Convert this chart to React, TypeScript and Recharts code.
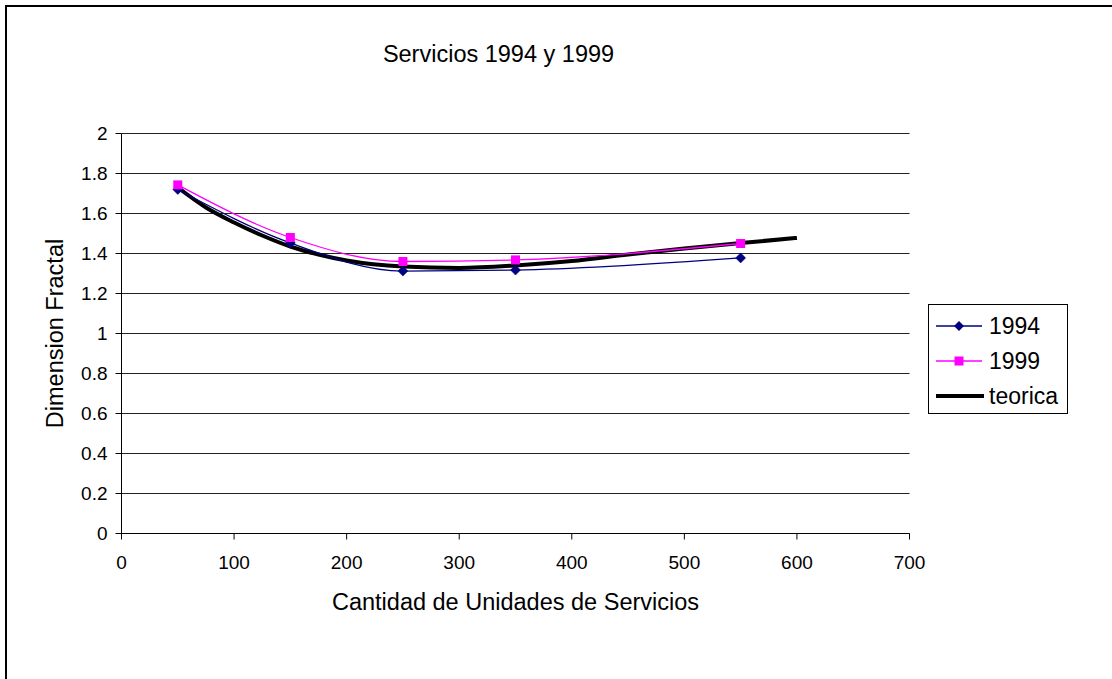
import React from 'react';
import {
  LineChart,
  Line,
  XAxis,
  YAxis,
  CartesianGrid,
  Legend,
  Label,
} from 'recharts';

const FONT = '"Liberation Sans", Arial, Helvetica, sans-serif';

// Dimension fractal by number of service units
const units1994 = [50, 150, 250, 350, 550];
const fractal1994 = [1.72, 1.453, 1.312, 1.317, 1.378];

const units1999 = [50, 150, 250, 350, 550];
const fractal1999 = [1.743, 1.48, 1.36, 1.368, 1.45];

const unitsTeorica = [50, 75, 100, 125, 150, 175, 200, 250, 300, 350, 400, 450, 500, 550, 600];
const fractalTeorica = [
  1.73, 1.63, 1.555, 1.49, 1.435, 1.395, 1.365, 1.335, 1.328, 1.34, 1.362, 1.395, 1.425, 1.452,
  1.478,
];

const xTicks = [0, 100, 200, 300, 400, 500, 600, 700];
const yTicks = [0, 0.2, 0.4, 0.6, 0.8, 1, 1.2, 1.4, 1.6, 1.8, 2];

const toPoints = (xs: number[], ys: number[]) => xs.map((x, i) => ({ x, y: ys[i] }));

const data1994 = toPoints(units1994, fractal1994);
const data1999 = toPoints(units1999, fractal1999);
const dataTeorica = toPoints(unitsTeorica, fractalTeorica);

const NAVY = '#000080';
const MAGENTA = '#ff00ff';

const renderDiamond = (props: any) => {
  const { cx, cy, index } = props;
  if (cx == null || cy == null) return <g key={`d-${index}`} />;
  const r = 5;
  return (
    <path
      key={`d-${index}`}
      d={`M${cx},${cy - r}L${cx + r},${cy}L${cx},${cy + r}L${cx - r},${cy}Z`}
      fill={NAVY}
      stroke={NAVY}
      strokeWidth={0.5}
    />
  );
};

const renderSquare = (props: any) => {
  const { cx, cy, index } = props;
  if (cx == null || cy == null) return <g key={`s-${index}`} />;
  const h = 4.5;
  return <rect key={`s-${index}`} x={cx - h} y={cy - h} width={h * 2} height={h * 2} fill={MAGENTA} />;
};

const renderXTitle = (props: any) => {
  const { x, width } = props.viewBox;
  return (
    <text
      x={x + width / 2}
      y={609.5}
      textAnchor="middle"
      fontFamily={FONT}
      fontSize={23.5}
      fill="#000"
    >
      Cantidad de Unidades de Servicios
    </text>
  );
};

const renderYTitle = (props: any) => {
  const { x, y, height } = props.viewBox;
  const cx = x + 23.5;
  const cy = y + height / 2;
  return (
    <text
      x={cx}
      y={cy}
      transform={`rotate(-90, ${cx}, ${cy})`}
      textAnchor="middle"
      dominantBaseline="central"
      fontFamily={FONT}
      fontSize={23.5}
      fill="#000"
    >
      Dimension Fractal
    </text>
  );
};

const legendRows = [
  { name: '1994', kind: 'diamond' },
  { name: '1999', kind: 'square' },
  { name: 'teorica', kind: 'thick' },
];

const LegendBox = () => (
  <div
    style={{
      border: '1px solid #000',
      background: '#fff',
      width: 138,
      paddingTop: 3,
      fontFamily: FONT,
      fontSize: 23,
      color: '#000',
    }}
  >
    {legendRows.map((row) => (
      <div key={row.name} style={{ display: 'flex', alignItems: 'center', height: 35 }}>
        <svg width={48} height={20} style={{ marginLeft: 7, marginRight: 5 }}>
          {row.kind === 'thick' ? (
            <line x1={0} y1={10} x2={48} y2={10} stroke="#000" strokeWidth={4} />
          ) : (
            <line
              x1={0}
              y1={10}
              x2={46}
              y2={10}
              stroke={row.kind === 'diamond' ? NAVY : MAGENTA}
              strokeWidth={1.3}
            />
          )}
          {row.kind === 'diamond' && <path d="M23,5L28,10L23,15L18,10Z" fill={NAVY} />}
          {row.kind === 'square' && <rect x={18.5} y={5.5} width={9} height={9} fill={MAGENTA} />}
        </svg>
        <span style={{ lineHeight: '24px' }}>{row.name}</span>
      </div>
    ))}
  </div>
);

const tickStyle = { fontFamily: FONT, fontSize: 19, fill: '#000' };

export default function App() {
  return (
    <div
      style={{
        position: 'fixed',
        left: 0,
        top: 0,
        width: 1112,
        height: 679,
        overflow: 'hidden',
        background: '#fff',
      }}
    >
      <div
        style={{
          position: 'absolute',
          left: 5,
          top: 5,
          width: 1107,
          height: 674,
          borderTop: '2px solid #000',
          borderLeft: '2px solid #000',
          boxSizing: 'border-box',
        }}
      />
      <div
        style={{
          position: 'absolute',
          left: 0,
          top: 42,
          width: 997,
          textAlign: 'center',
          fontFamily: FONT,
          fontSize: 23.5,
          lineHeight: '24px',
          color: '#000',
        }}
      >
        Servicios 1994 y 1999
      </div>
      <div style={{ position: 'absolute', left: 0, top: 0 }}>
        <LineChart
          width={1112}
          height={679}
          margin={{ top: 133.5, left: 31.5, right: 202.5, bottom: 105.5 }}
        >
          <CartesianGrid vertical={false} stroke="#222" strokeWidth={1} />
          <XAxis
            type="number"
            dataKey="x"
            domain={[0, 700]}
            ticks={xTicks}
            interval={0}
            height={40}
            tick={tickStyle}
            tickSize={6}
            tickMargin={16.5}
            axisLine={{ stroke: '#000' }}
            tickLine={{ stroke: '#000' }}
          >
            <Label content={renderXTitle} />
          </XAxis>
          <YAxis
            type="number"
            dataKey="y"
            domain={[0, 2]}
            ticks={yTicks}
            interval={0}
            width={90}
            tick={tickStyle}
            tickFormatter={(v: number) => String(v)}
            tickSize={6}
            tickMargin={8}
            axisLine={{ stroke: '#000' }}
            tickLine={{ stroke: '#000' }}
          >
            <Label content={renderYTitle} />
          </YAxis>
          <Legend
            layout="vertical"
            align="center"
            verticalAlign="middle"
            content={() => <LegendBox />}
            wrapperStyle={{ left: 928, top: 304, width: 140, height: 'auto' }}
          />
          <Line
            name="teorica"
            data={dataTeorica}
            dataKey="y"
            type="monotone"
            stroke="#000"
            strokeWidth={4}
            dot={false}
            activeDot={false}
            isAnimationActive={false}
          />
          <Line
            name="1994"
            data={data1994}
            dataKey="y"
            type="monotone"
            stroke={NAVY}
            strokeWidth={1.3}
            dot={renderDiamond}
            activeDot={false}
            isAnimationActive={false}
          />
          <Line
            name="1999"
            data={data1999}
            dataKey="y"
            type="monotone"
            stroke={MAGENTA}
            strokeWidth={1.3}
            dot={renderSquare}
            activeDot={false}
            isAnimationActive={false}
          />
        </LineChart>
      </div>
    </div>
  );
}
